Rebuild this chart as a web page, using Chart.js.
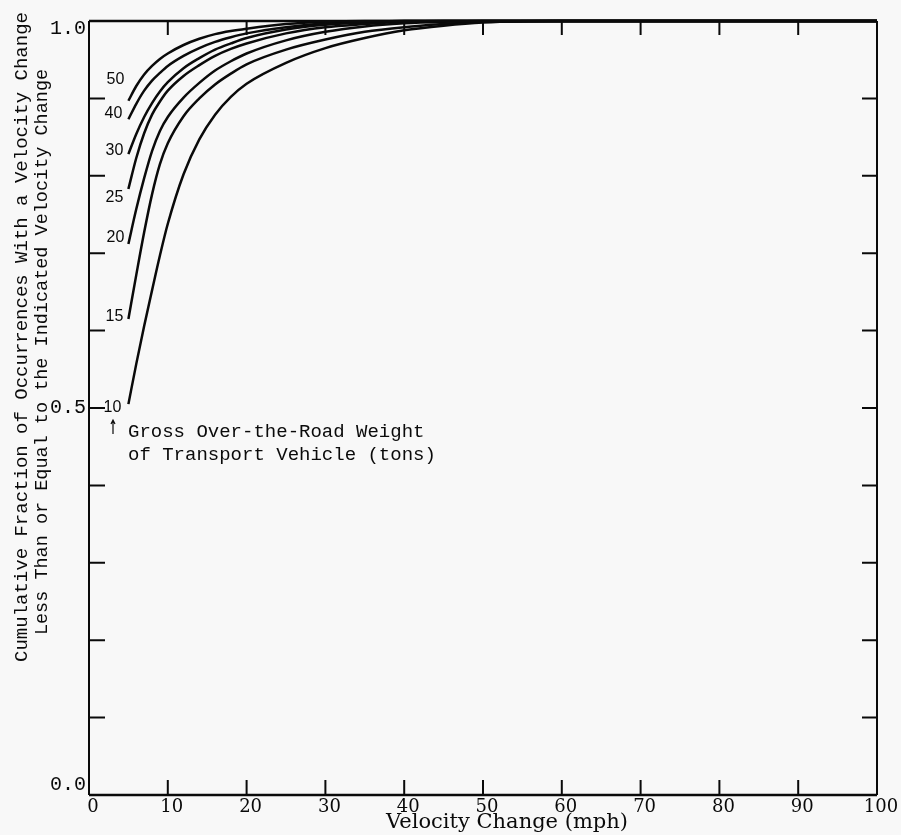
<!DOCTYPE html>
<html>
<head>
<meta charset="utf-8">
<script src="https://cdn.jsdelivr.net/npm/chart.js@4.4.1/dist/chart.umd.min.js"></script>
<style>
  html, body { margin: 0; padding: 0; background: #f8f8f8; }
  canvas { display: block; }
</style>
</head>
<body>
<canvas id="deltaV" width="901" height="835"></canvas>
<script>
// velocity change (mph) sampled along every curve
const velocity = [5, 6, 7, 8, 9, 10, 12, 14, 16, 18, 20, 25, 30, 35, 40, 45, 50, 60, 100];

// cumulative fraction <= velocity change, one array per gross weight (tons)
const frac10 = [0.505, 0.557, 0.606, 0.652, 0.697, 0.738, 0.802, 0.847, 0.879, 0.902, 0.919, 0.946, 0.965, 0.978, 0.988, 0.994, 0.998, 1.0, 1.0];
const frac15 = [0.615, 0.672, 0.727, 0.776, 0.815, 0.842, 0.877, 0.900, 0.918, 0.932, 0.944, 0.963, 0.976, 0.986, 0.992, 0.996, 0.999, 1.0, 1.0];
const frac20 = [0.712, 0.757, 0.797, 0.832, 0.858, 0.876, 0.901, 0.920, 0.936, 0.948, 0.958, 0.975, 0.986, 0.993, 0.997, 0.999, 1.0, 1.0, 1.0];
const frac25 = [0.783, 0.823, 0.855, 0.879, 0.896, 0.910, 0.929, 0.943, 0.955, 0.964, 0.971, 0.984, 0.992, 0.996, 0.999, 1.0, 1.0, 1.0, 1.0];
const frac30 = [0.828, 0.854, 0.876, 0.894, 0.909, 0.921, 0.939, 0.952, 0.963, 0.971, 0.978, 0.989, 0.995, 0.998, 1.0, 1.0, 1.0, 1.0, 1.0];
const frac40 = [0.873, 0.893, 0.910, 0.923, 0.933, 0.942, 0.955, 0.965, 0.973, 0.979, 0.984, 0.992, 0.997, 0.999, 1.0, 1.0, 1.0, 1.0, 1.0];
const frac50 = [0.897, 0.916, 0.931, 0.942, 0.951, 0.958, 0.969, 0.977, 0.983, 0.987, 0.990, 0.996, 0.999, 1.0, 1.0, 1.0, 1.0, 1.0, 1.0];

const weights = [10, 15, 20, 25, 30, 40, 50];
const series = [frac10, frac15, frac20, frac25, frac30, frac40, frac50];

// axis ticks and the few labelled values
const xTicks = [0, 10, 20, 30, 40, 50, 60, 70, 80, 90, 100];
const yTicks = [0, 0.1, 0.2, 0.3, 0.4, 0.5, 0.6, 0.7, 0.8, 0.9, 1.0];
const yLabelValues = [0, 0.5, 1.0];
const yLabelText = ["0.0", "0.5", "1.0"];

const yTitle = [
  "Cumulative Fraction of Occurrences With a Velocity Change",
  "Less Than or Equal to the Indicated Velocity Change"
];
const xTitle = "Velocity Change (mph)";
const noteLines = ["Gross Over-the-Road Weight", "of Transport Vehicle (tons)"];

// where each weight tag sits next to the start of its curve (px)
const tagOffset = [[-16, 3], [-14, -2], [-13, -6], [-14, 9], [-14, -4], [-15, -6], [-13, -21]];
const yLabelShift = [-10, 0, 8];

const INK = "#0a0a0a";
const MONO = "'Liberation Mono', 'DejaVu Sans Mono', monospace";
const SERIF = "'DejaVu Serif', 'Liberation Serif', serif";

const frameAndText = {
  id: "frameAndText",
  afterDraw(chart) {
    const { ctx, chartArea: a, scales } = chart;
    const xs = scales.x, ys = scales.y;
    ctx.save();
    ctx.strokeStyle = INK;
    ctx.fillStyle = INK;

    // frame
    ctx.lineWidth = 2.5;
    ctx.beginPath();
    ctx.moveTo(a.left, a.top);
    ctx.lineTo(a.right, a.top);
    ctx.moveTo(a.left, a.bottom);
    ctx.lineTo(a.right, a.bottom);
    ctx.stroke();
    ctx.lineWidth = 2;
    ctx.beginPath();
    ctx.moveTo(a.left, a.top);
    ctx.lineTo(a.left, a.bottom);
    ctx.moveTo(a.right, a.top);
    ctx.lineTo(a.right, a.bottom);
    ctx.stroke();

    // inward tick marks on all four sides
    ctx.lineWidth = 2;
    ctx.beginPath();
    xTicks.slice(1, -1).forEach(v => {
      const px = xs.getPixelForValue(v);
      ctx.moveTo(px, a.bottom);
      ctx.lineTo(px, a.bottom - 15);
      ctx.moveTo(px, a.top);
      ctx.lineTo(px, a.top + 14);
    });
    yTicks.slice(1, -1).forEach(v => {
      const py = ys.getPixelForValue(v);
      ctx.moveTo(a.left, py);
      ctx.lineTo(a.left + 16, py);
      ctx.moveTo(a.right, py);
      ctx.lineTo(a.right - 15, py);
    });
    ctx.stroke();

    // x tick labels
    ctx.font = "18px " + SERIF;
    ctx.textAlign = "center";
    ctx.textBaseline = "alphabetic";
    xTicks.forEach(v => {
      ctx.fillText(String(v), xs.getPixelForValue(v) + 4, 812);
    });

    // y tick labels
    ctx.font = "20px " + MONO;
    ctx.textAlign = "right";
    ctx.textBaseline = "middle";
    yLabelValues.forEach((v, i) => {
      ctx.fillText(yLabelText[i], a.left - 3, ys.getPixelForValue(v) + yLabelShift[i]);
    });

    // axis titles
    ctx.font = "21px " + SERIF;
    ctx.textAlign = "center";
    ctx.textBaseline = "alphabetic";
    ctx.fillText(xTitle, 507, 828);

    [[27, 337, 19], [47, 352, 18.5]].forEach(([bx, cy, size], i) => {
      ctx.save();
      ctx.font = size + "px " + MONO;
      ctx.translate(bx, cy);
      ctx.rotate(-Math.PI / 2);
      ctx.fillText(yTitle[i], 0, 0);
      ctx.restore();
    });

    // weight tags at the start of each curve
    ctx.font = "16px 'Liberation Sans', Arial, sans-serif";
    ctx.textAlign = "center";
    ctx.textBaseline = "middle";
    weights.forEach((w, i) => {
      const p = chart.getDatasetMeta(i).data[0];
      ctx.fillText(String(w), p.x + tagOffset[i][0], p.y + tagOffset[i][1]);
    });

    // note under the 10-ton curve
    ctx.font = "19px " + MONO;
    ctx.textAlign = "left";
    ctx.textBaseline = "alphabetic";
    ctx.fillText(noteLines[0], 128, 437);
    ctx.fillText(noteLines[1], 128, 460);
    ctx.lineWidth = 1.2;
    ctx.beginPath();
    ctx.moveTo(113, 434);
    ctx.lineTo(113, 420);
    ctx.moveTo(111, 424);
    ctx.lineTo(113, 420);
    ctx.lineTo(115, 424);
    ctx.stroke();

    ctx.restore();
  }
};

new Chart(document.getElementById("deltaV"), {
  type: "line",
  data: {
    datasets: weights.map((w, i) => ({
      label: w + " tons",
      data: velocity.map((v, j) => ({ x: v, y: series[i][j] })),
      borderColor: INK,
      borderWidth: 2.5,
      pointRadius: 0,
      cubicInterpolationMode: "monotone",
      fill: false,
      clip: 6
    }))
  },
  options: {
    responsive: false,
    animation: false,
    devicePixelRatio: 1,
    layout: { padding: { left: 89, right: 24, top: 21, bottom: 40 } },
    plugins: { legend: { display: false }, tooltip: { enabled: false } },
    scales: {
      x: { type: "linear", min: 0, max: 100, display: false },
      y: { type: "linear", min: 0, max: 1, display: false }
    }
  },
  plugins: [{
    id: "paper",
    beforeDraw(chart) {
      const { ctx, width, height } = chart;
      ctx.save();
      ctx.fillStyle = "#f8f8f8";
      ctx.fillRect(0, 0, width, height);
      ctx.restore();
    }
  }, frameAndText]
});
</script>
</body>
</html>
